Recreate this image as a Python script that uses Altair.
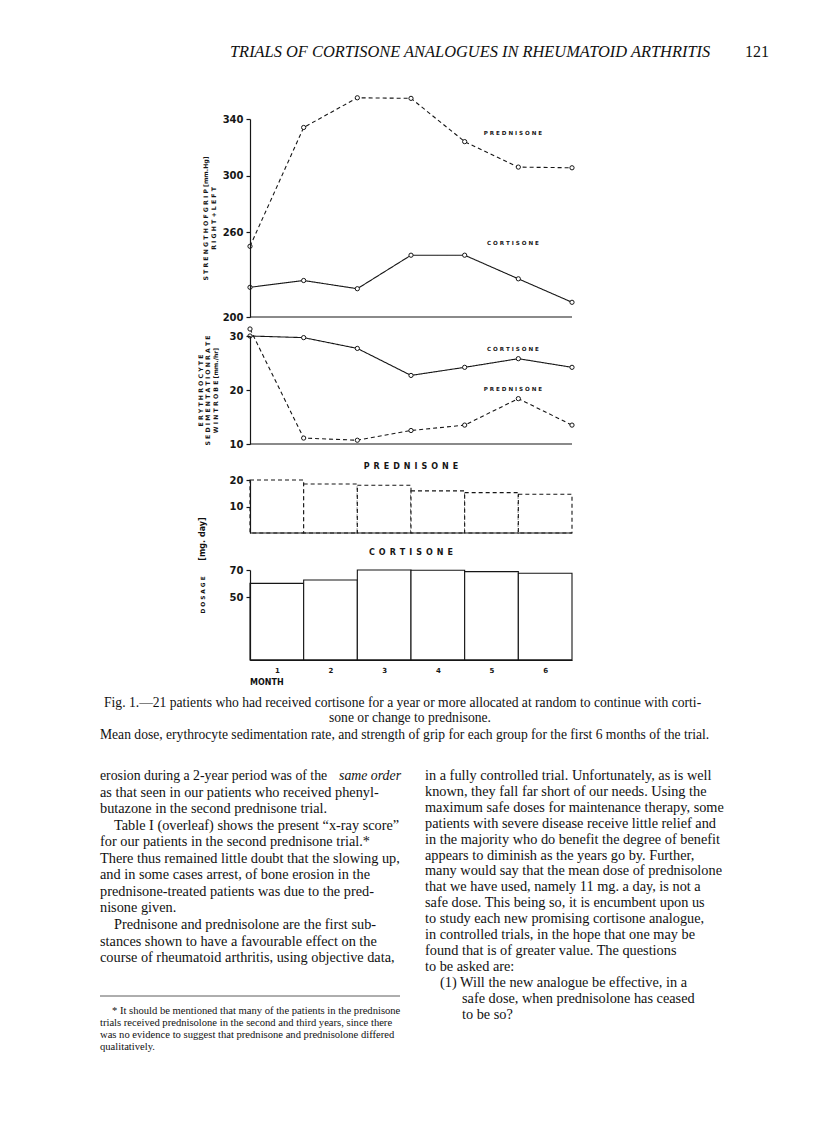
import altair as alt
import pandas as pd

# ---------------- data ----------------
month_edges = [0, 1, 2, 3, 4, 5, 6]
grip_prednisone = [250, 334, 355, 354.6, 324, 306, 305.5]
grip_cortisone = [221, 225.8, 220, 243.7, 243.7, 227, 210.4]
esr_cortisone = [30, 29.7, 27.7, 22.7, 24.2, 25.8, 24.2]
esr_prednisone = [31.3, 11.1, 10.7, 12.5, 13.5, 18.4, 13.5]
month_labels = [1, 2, 3, 4, 5, 6]
dose_prednisone = [20, 18.5, 18, 15.9, 15.25, 14.6]
dose_cortisone = [60.2, 62.7, 70, 69.8, 68.8, 67.6]

grip_ticks = [200, 260, 300, 340]
esr_ticks = [10, 20, 30]
pred_dose_ticks = [10, 20]
cort_dose_ticks = [50, 70]

grip_domain = [200, 340]
esr_domain = [10, 30]
pred_dose_domain = [0, 20]
cort_dose_domain = [4, 70]

# series label anchors (data coordinates)
grip_label_text = ["PREDNISONE", "CORTISONE"]
grip_label_x = [4.9, 4.9]
grip_label_y = [330, 252]
esr_label_text = ["CORTISONE", "PREDNISONE"]
esr_label_x = [4.9, 4.9]
esr_label_y = [27.6, 20.2]

header_title = "TRIALS OF CORTISONE ANALOGUES IN RHEUMATOID ARTHRITIS"
page_number = "121"
caption_lines = [
    "Fig. 1.\u201421 patients who had  received cortisone for a  year or more allocated at random to continue with corti-",
    "sone or change to prednisone.",
    "Mean dose, erythrocyte sedimentation rate, and strength of grip for each group for the first 6 months of the trial.",
]
left_column = [
    "erosion during a 2-year period was of the",
    "as that seen in our patients who received phenyl-",
    "butazone in the second prednisone trial.",
    "Table I (overleaf) shows the present \u201cx-ray score\u201d",
    "for our patients in the second prednisone trial.*",
    "There thus remained little doubt that the slowing up,",
    "and in some cases arrest, of bone erosion in the",
    "prednisone-treated patients was due to the pred-",
    "nisone given.",
    "Prednisone and prednisolone are the first sub-",
    "stances shown to have a favourable effect on the",
    "course of rheumatoid arthritis, using objective data,",
]
left_italic = "same order"
left_indent = [0, 0, 0, 14, 0, 0, 0, 0, 0, 14, 0, 0]
right_column = [
    "in a fully controlled trial.  Unfortunately, as is well",
    "known, they fall far short of our needs.  Using the",
    "maximum safe doses for maintenance therapy, some",
    "patients with severe disease receive little relief and",
    "in the majority who do benefit the degree of benefit",
    "appears to diminish as the years go by.  Further,",
    "many would say that the mean dose of prednisolone",
    "that we have used, namely 11 mg. a day, is not a",
    "safe dose.  This being so, it is encumbent upon us",
    "to study each new promising cortisone analogue,",
    "in controlled trials, in the hope that one may be",
    "found that is of greater value.  The questions",
    "to be asked are:",
    "(1) Will the new analogue be effective, in a",
    "safe dose, when prednisolone has ceased",
    "to be so?",
]
right_indent = [0] * 13 + [15, 37, 37]
footnote_lines = [
    "* It should be mentioned that many of the patients in the prednisone",
    "trials received prednisolone in the second and third years, since there",
    "was no evidence to suggest that prednisone and prednisolone differed",
    "qualitatively.",
]
footnote_indent = [12, 0, 0, 0]

# ---------------- layout constants ----------------
INK = "#161616"
OX, OY = 250, 119          # page position of the first panel's plot origin
PW = 322
ROW_H = [198, 127, 89, 127]
SANS = "DejaVu Sans"
SERIF = "Liberation Serif"


def spaced(s, sep=" "):
    return "   ".join(sep.join(list(w)) for w in s.split(" "))


def yaxis(values, title=None, pad=6, lines=7.5):
    return alt.Axis(values=values, orient="left", title=title, grid=False, zindex=1,
                    domainColor=INK, domainWidth=1.2, tickColor=INK, tickWidth=1.2,
                    tickSize=4, labelFont=SANS, labelFontWeight="bold", labelFontSize=10,
                    labelColor=INK, labelPadding=3, labelOverlap=False,
                    titleFont=SANS, titleFontWeight="bold", titleFontSize=6.2,
                    titleColor=INK, titlePadding=pad, titleLineHeight=lines)


dash_scale = alt.Scale(domain=["Prednisone", "Cortisone"], range=[[4, 3], [1, 0]])


def xs():
    return alt.Scale(domain=[0, 6], nice=False, zero=False)


def line_panel(pred, cort, domain, rng, ticks, title, pad, lab_text, lab_x, lab_y):
    df = pd.DataFrame({
        "month": month_edges * 2,
        "value": pred + cort,
        "drug": ["Prednisone"] * len(pred) + ["Cortisone"] * len(cort),
    })
    ys = alt.Scale(domain=domain, range=rng, nice=False, zero=False)
    yax = yaxis(ticks, title, pad)
    base = alt.Chart(df)
    lines = base.mark_line(color=INK, strokeWidth=1.1).encode(
        x=alt.X("month:Q", scale=xs(), axis=None),
        y=alt.Y("value:Q", scale=ys, axis=yax),
        strokeDash=alt.StrokeDash("drug:N", scale=dash_scale, legend=None),
    )
    pts = base.mark_point(shape="circle", filled=True, fill="white", stroke=INK,
                          strokeWidth=1, size=18, opacity=1).encode(
        x=alt.X("month:Q", axis=None),
        y=alt.Y("value:Q", axis=yax),
    )
    rule_df = pd.DataFrame({"a": [month_edges[0]], "b": [month_edges[-1]], "v": [domain[0]]})
    base_rule = alt.Chart(rule_df).mark_rule(color=INK, strokeWidth=1.2).encode(
        x=alt.X("a:Q", axis=None), x2="b:Q", y=alt.Y("v:Q", axis=yax),
    )
    labs = alt.Chart(pd.DataFrame({"t": [spaced(t) for t in lab_text], "x": lab_x, "y": lab_y})).mark_text(
        font=SANS, fontWeight="bold", fontSize=5.6, color=INK).encode(
        x=alt.X("x:Q", axis=None),
        y=alt.Y("y:Q", axis=yax),
        text="t:N",
    )
    return [lines, pts, base_rule, labs]


def bar_panel(doses, domain, rng, ticks, dash, heading, heading_y, with_x_axis):
    df = pd.DataFrame({
        "start": [m - 1 for m in month_labels],
        "end": month_labels,
        "dose": doses,
        "floor": [domain[0]] * len(doses),
    })
    ys = alt.Scale(domain=domain, range=rng, nice=False, zero=False)
    yax = yaxis(ticks, None)
    if with_x_axis:
        xax = alt.Axis(values=[m - 0.5 for m in month_labels], labelExpr="datum.value + 0.5",
                       ticks=False, domain=True, domainColor=INK, domainWidth=1.2, grid=False,
                       zindex=1, labelFont=SANS, labelFontWeight="bold", labelFontSize=7,
                       labelColor=INK, labelPadding=6, title=None)
    else:
        xax = None
    bar_kw = dict(fill="white", stroke=INK, strokeWidth=1.1)
    if dash:
        bar_kw["strokeDash"] = [4, 3]
    bars = alt.Chart(df).mark_bar(**bar_kw).encode(
        x=alt.X("start:Q", scale=xs(), axis=xax),
        x2="end:Q",
        y=alt.Y("dose:Q", scale=ys, axis=yax),
        y2="floor:Q",
    )
    rule_df = pd.DataFrame({"a": [month_edges[0]], "b": [month_edges[-1]], "v": [domain[0]]})
    base_rule = alt.Chart(rule_df).mark_rule(color=INK, strokeWidth=1.2).encode(
        x=alt.X("a:Q", axis=xax), x2="b:Q", y=alt.Y("v:Q", axis=yax),
    )
    head = alt.Chart(pd.DataFrame({"t": [spaced(heading, "\u2002")], "x": [3], "y": [heading_y]})).mark_text(
        font=SANS, fontWeight="bold", fontSize=8, color=INK).encode(
        x=alt.X("x:Q", axis=xax),
        y=alt.Y("y:Q", axis=yax),
        text="t:N",
    )
    return [bars, base_rule, head]


def page_text(text, x, y, size, font=SERIF, style="normal", weight="normal",
              align="left", angle=0):
    return alt.Chart(pd.DataFrame({"k": [0]})).mark_text(
        font=font, fontSize=size, fontStyle=style, fontWeight=weight, align=align,
        baseline="middle", angle=angle, color="#111111").encode(
        x=alt.value(x - OX), y=alt.value(y - OY), text=alt.value(text))


# white page sheet: fixes the page frame (autosize pad uses its bounds)
page_sheet = alt.Chart(pd.DataFrame({"k": [0]})).mark_rect(fill="white", strokeWidth=0).encode(
    x=alt.value(8 - OX), x2=alt.value(808 - OX), y=alt.value(8 - OY), y2=alt.value(1133 - OY))

BODY = 14.3
texts = []
texts.append(page_text(header_title, 230, 52, 16.4, style="italic"))
texts.append(page_text(page_number, 745, 52, 16))
texts.append(page_text(spaced("DOSAGE"), 203, 595, 5.8, font=SANS, weight="bold", align="center", angle=270))
texts.append(page_text("[mg. day]", 203, 539, 8, font=SANS, weight="bold", align="center", angle=270))
texts.append(page_text("MONTH", 250, 683, 8, font=SANS, weight="bold"))
texts.append(page_text(caption_lines[0], 104, 703, 13.6))
texts.append(page_text(caption_lines[1], 410, 718, 13.6, align="center"))
texts.append(page_text(caption_lines[2], 100, 735, 13.6))

LINE_L = 16.55
LINE_R = 15.9
for i, (t, ind) in enumerate(zip(left_column, left_indent)):
    size = 13.8 if i == 0 else BODY
    texts.append(page_text(t, 100 + ind, 776 + i * LINE_L, size))
texts.append(page_text(left_italic, 401, 776, 13.8, style="italic", align="right"))
for i, (t, ind) in enumerate(zip(right_column, right_indent)):
    texts.append(page_text(t, 425 + ind, 776 + i * LINE_R, BODY))
for i, (t, ind) in enumerate(zip(footnote_lines, footnote_indent)):
    texts.append(page_text(t, 100 + ind, 1011 + i * 12, 10.6))

separator = alt.Chart(pd.DataFrame({"k": [0]})).mark_rule(color="#333333", strokeWidth=0.8).encode(
    x=alt.value(100 - OX), x2=alt.value(400 - OX), y=alt.value(996 - OY))

row1 = alt.layer(
    page_sheet,
    *line_panel(grip_prednisone, grip_cortisone, grip_domain, [ROW_H[0], 0], grip_ticks,
                [spaced("STRENGTH OF GRIP") + "  [mm.Hg]", spaced("RIGHT + LEFT")], 6,
                grip_label_text, grip_label_x, grip_label_y),
    separator, *texts,
).properties(width=PW, height=ROW_H[0])

row2 = alt.layer(
    *line_panel(esr_prednisone, esr_cortisone, esr_domain, [ROW_H[1], 19], esr_ticks,
                [spaced("ERYTHROCYTE"), spaced("SEDIMENTATION RATE"), spaced("WINTROBE") + "  [mm./hr]"], 11,
                esr_label_text, esr_label_x, esr_label_y),
).properties(width=PW, height=ROW_H[1])

row3 = alt.layer(
    *bar_panel(dose_prednisone, pred_dose_domain, [ROW_H[2], 36], pred_dose_ticks, True,
               "PREDNISONE", 25, False),
).properties(width=PW, height=ROW_H[2])

row4 = alt.layer(
    *bar_panel(dose_cortisone, cort_dose_domain, [ROW_H[3], 37], cort_dose_ticks, False,
               "CORTISONE", 82.5, True),
).properties(width=PW, height=ROW_H[3])

chart = alt.vconcat(row1, row2, row3, row4, spacing=0, bounds="flush").properties(
    padding=0, background="white",
).configure_view(stroke=None)

chart.save("out.html", embed_options={"renderer": "svg", "actions": False})
